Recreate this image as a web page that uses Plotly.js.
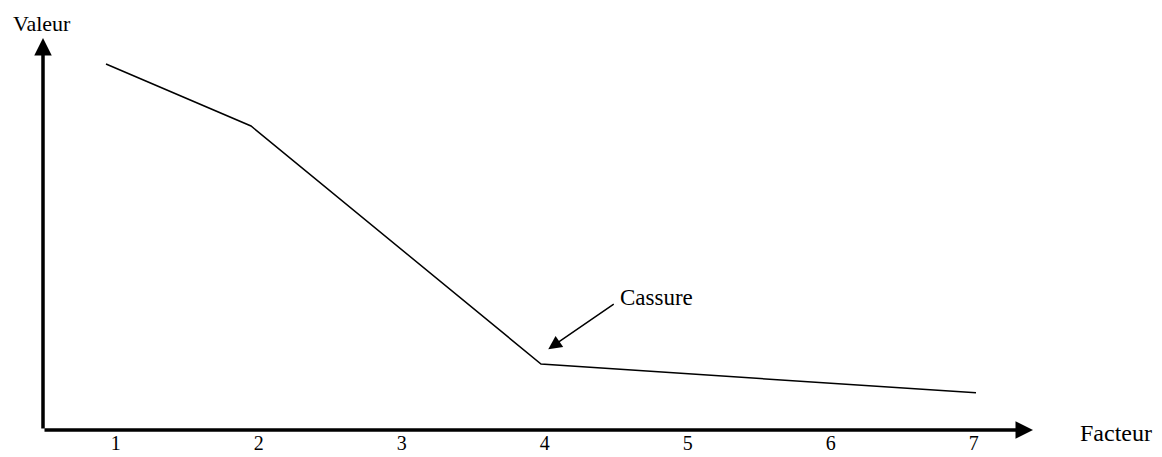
<!DOCTYPE html>
<html>
<head>
<meta charset="utf-8">
<script src="https://cdn.plot.ly/plotly-3.0.1.min.js"></script>
<style>
  html, body { margin: 0; padding: 0; background: #fff; }
  #chart { width: 1162px; height: 457px; }
</style>
</head>
<body>
<div id="chart"></div>
<script>
// Tick labels along the horizontal axis
const tickPositions = [1, 2, 3, 4, 5, 6, 7];
const tickLabels = ['1', '2', '3', '4', '5', '6', '7'];

// Scree curve (factor number, value)
const factors = [1, 2, 4, 7];
const values = [9.15, 7.6, 1.65, 0.93];

// Break point pointed to by the "Cassure" arrow
const breakFactor = [4.05];
const breakValue = [2.02];

const xTitle = 'Facteur';
const yTitle = 'Valeur';
const breakLabel = 'Cassure';

const FONT = 'Liberation Serif, Times New Roman, serif';

// empty trace so the labelled base axis gets its subplot
const axisHolder = {
  x: [], y: [], xaxis: 'x', yaxis: 'y',
  type: 'scatter', mode: 'lines', hoverinfo: 'skip', showlegend: false
};

const trace = {
  x: factors,
  y: values,
  xaxis: 'x2',
  yaxis: 'y',
  type: 'scatter',
  mode: 'lines',
  line: { color: '#000', width: 1.5 },
  hoverinfo: 'skip',
  showlegend: false
};

const layout = {
  width: 1162,
  height: 457,
  margin: { l: 43, r: 129, t: 38, b: 27 },
  paper_bgcolor: '#fff',
  plot_bgcolor: '#fff',
  showlegend: false,
  font: { family: FONT, color: '#000' },
  xaxis: {
    range: [0.4916, 7.4147],
    autorange: false,
    tickmode: 'array',
    tickvals: tickPositions,
    ticktext: tickLabels,
    showticklabels: true,
    tickfont: { family: FONT, size: 20, color: '#000' },
    ticks: '',
    ticklabelstandoff: -1,
    ticklabeloverflow: 'allow',
    showline: false,
    showgrid: false,
    zeroline: false,
    fixedrange: true
  },
  xaxis2: {
    range: [0.5655, 7.3931],
    autorange: false,
    overlaying: 'x',
    visible: false,
    fixedrange: true
  },
  yaxis: {
    range: [0, 9.8],
    autorange: false,
    visible: false,
    showgrid: false,
    zeroline: false,
    fixedrange: true
  },
  annotations: [
    // horizontal axis arrow
    { xref: 'paper', yref: 'paper', x: 1, y: 0, ax: -990, ay: 0,
      axref: 'pixel', ayref: 'pixel', text: '', showarrow: true,
      arrowhead: 2, arrowsize: 1, arrowwidth: 3.5, arrowcolor: '#000', standoff: 0 },
    // vertical axis arrow
    { xref: 'paper', yref: 'paper', x: 0, y: 1, ax: 0, ay: 392,
      axref: 'pixel', ayref: 'pixel', text: '', showarrow: true,
      arrowhead: 2, arrowsize: 1, arrowwidth: 3.5, arrowcolor: '#000', standoff: 0 },
    // axis titles
    { xref: 'paper', yref: 'paper', x: -0.0015, y: 1.038, text: yTitle,
      showarrow: false, xanchor: 'center', yanchor: 'middle',
      font: { family: FONT, size: 22, color: '#000' } },
    { xref: 'paper', yref: 'paper', x: 1.0838, y: -0.0077, text: xTitle,
      showarrow: false, xanchor: 'center', yanchor: 'middle',
      font: { family: FONT, size: 24, color: '#000' } },
    // break label
    { xref: 'paper', yref: 'paper', x: 0.5808, y: 0.339, text: breakLabel,
      showarrow: false, xanchor: 'left', yanchor: 'middle',
      font: { family: FONT, size: 23, color: '#000' } },
    // break arrow
    { xref: 'x2', yref: 'y', x: breakFactor[0], y: breakValue[0],
      ax: 67, ay: -46, axref: 'pixel', ayref: 'pixel', text: '', showarrow: true,
      arrowhead: 2, arrowsize: 1.8, arrowwidth: 1.5, arrowcolor: '#000', standoff: 0 }
  ]
};

Plotly.newPlot('chart', [axisHolder, trace], layout, { staticPlot: true, displayModeBar: false });
</script>
</body>
</html>
